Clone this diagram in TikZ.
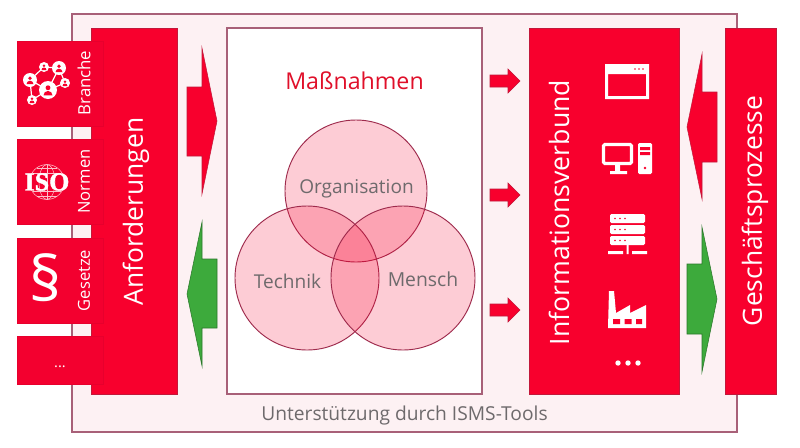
\documentclass[tikz,border=0pt]{standalone}
\usepackage{fontspec}
\setmainfont{Open Sans}
\newfontfamily\isofont[BoldFeatures={FakeBold=1.5}]{Liberation Serif}
\usetikzlibrary{calc}
\definecolor{rd}{HTML}{F8002D}
\definecolor{rdline}{HTML}{C2183A}
\definecolor{sidered}{HTML}{F3002F}
\definecolor{masstext}{HTML}{E0102A}
\definecolor{frameline}{HTML}{A86078}
\definecolor{paleback}{HTML}{FDF1F3}
\definecolor{grn}{HTML}{3DAA3C}
\definecolor{grytxt}{HTML}{6E6A6C}
\definecolor{vennline}{HTML}{9E2A4C}
\definecolor{vennfill}{HTML}{F8002D}
\tikzset{
 x=0.75pt,y=-0.75pt,
 redbox/.style={fill=rd,draw=rdline,line width=0.5pt,inner sep=0,outer sep=0},
 sidebox/.style={fill=sidered,draw=sidered!95!black,line width=0.3pt},
 blockred/.style={fill=rd,draw=rdline,line width=0.4pt},
 blockgreen/.style={fill=grn,draw=grn!70!black,line width=0.4pt},
 venn/.style={fill=vennfill,fill opacity=0.2,draw=vennline,line width=0.7pt},
 whitetext/.style={text=white,rotate=90,inner sep=0},
 iconline/.style={draw=white,line width=0.9pt},
 greytext/.style={text=grytxt,inner sep=0},
}
\begin{document}
\begin{tikzpicture}
\useasboundingbox (0,0) rectangle (800,447);
% frame
\path[fill=paleback,draw=frameline,line width=0.8pt] (72,14) rectangle (737,432);
\node[greytext,font=\fontsize{14.4}{15}\selectfont] (tools) at (404.5,416) {Unterstützung durch ISMS-Tools};
% left column
\path[redbox] (91,28) rectangle (177,394);
\node[whitetext,font=\fontsize{19.8}{21}\selectfont] (anf) at (136,211.5) {Anforderungen};
\path[sidebox] (17,41) rectangle (103,126);
\path[sidebox] (17,139) rectangle (103,224);
\path[sidebox] (17,238) rectangle (103,323);
\path[sidebox] (17,336) rectangle (103,384);
\node[whitetext,font=\fontsize{12.6}{13}\selectfont] (branche) at (84,83) {Branche};
\node[whitetext,font=\fontsize{12.4}{13}\selectfont] (normen) at (84,181.5) {Normen};
\node[whitetext,font=\fontsize{12.4}{13}\selectfont] (gesetze) at (84,280.5) {Gesetze};
\node[text=white,inner sep=0,font=\fontsize{11}{12}\selectfont] (more) at (60,367) {...};
% network icon
\draw[iconline] (30,80)--(44,67)--(59,68)--(65,83)--(48,90)--(32,100)--cycle (48,90)--(59,68) (30,80)--(48,90);
\foreach \cx/\cy/\r in {30/80/7,44/67/5,59/68/7,65/83/5,48/90/9,32/100/5}{
 \fill[white] (\cx,\cy) circle[radius=\r];
 \fill[rd] (\cx,\cy-0.25*\r) circle[radius=0.27*\r];
 \fill[rd] (\cx-0.5*\r,\cy+0.6*\r) arc[start angle=180,end angle=360,radius=0.5*\r] -- cycle;
}
% ISO icon
\draw[white!75!rd,line width=0.4pt] (47,182) circle[radius=17.5];
\draw[white!75!rd,line width=0.4pt] (47,182) ellipse[x radius=8,y radius=17.5];
\draw[white!75!rd,line width=0.4pt] (47,164.5)--(47,199.5) (37,168)--(57,168) (33,173)--(61,173) (33,191)--(61,191) (37,196)--(57,196);
\node[text=white,inner sep=0,font=\isofont\bfseries\fontsize{19.5}{21}\selectfont] (iso) at (47,182) {ISO};
% paragraph
\node[text=white,inner sep=0,font=\fontsize{47}{48}\selectfont] (par) at (46,278) {§};
% arrows
\path[blockred] (187,87)--(202,87)--(202,48)--(217,121)--(202,194)--(202,156)--(187,156)--cycle;
\path[blockgreen] (217,259)--(202,259)--(202,222)--(187,294)--(202,366)--(202,328)--(217,328)--cycle;
\path[blockred] (717,92)--(702,92)--(702,54)--(687,127)--(702,199)--(702,162)--(717,162)--cycle;
\path[blockgreen] (687,264)--(702,264)--(702,227)--(717,299)--(702,372)--(702,334)--(687,334)--cycle;
% centre
\path[fill=white,draw=frameline,line width=0.8pt] (227,28) rectangle (482,394);
\node[text=masstext,inner sep=0,font=\fontsize{17.4}{18}\selectfont] (mass) at (354.5,81) {Maßnahmen};
\path[venn] (356,191) circle[radius=71];
\path[venn] (307,278) circle[radius=72];
\path[venn] (403,278) circle[radius=72];
\node[greytext,font=\fontsize{14.3}{15}\selectfont] (org) at (356.5,189) {Organisation};
\node[greytext,font=\fontsize{14.3}{15}\selectfont] (tech) at (287.5,281) {Technik};
\node[greytext,font=\fontsize{14.5}{15}\selectfont] (mensch) at (423,279) {Mensch};
% small arrows
\foreach \ay in {81,195,310}{
 \path[blockred] (490,\ay-6)--(508,\ay-6)--(508,\ay-12)--(520,\ay)--(508,\ay+12)--(508,\ay+6)--(490,\ay+6)--cycle;
}
% right
\path[redbox] (529,28) rectangle (679,394);
\path[redbox] (725,28) rectangle (776,394);
\node[whitetext,font=\fontsize{20}{21}\selectfont] (inf) at (559,212.5) {Informationsverbund};
\node[whitetext,font=\fontsize{19.8}{21}\selectfont] (ges) at (755,211) {Geschäftsprozesse};
% window icon
\fill[white,even odd rule] (605,64) rectangle (649,99) (608,74) rectangle (646,96);
\fill[rd] (635,69) circle[radius=.8] (639,69) circle[radius=.8] (643,69) circle[radius=.8];
% computer icon
\draw[white,line width=2.4pt,rounded corners=1pt] (603.5,144.5) rectangle (631.5,163.5);
\fill[white] (615,165) rectangle (620,171) (610,171) rectangle (627,174);
\fill[white,rounded corners=1pt] (638,143) rectangle (652,174);
\fill[rd] (640,147) rectangle (650,150) (640,152) rectangle (650,155) (645,168) circle[radius=1.3];
% server icon
\foreach \sy in {214,225,236}{
 \fill[white,rounded corners=1pt] (610,\sy) rectangle (645,\sy+9);
 \fill[rd] (615,\sy+4.5) circle[radius=.8] (620,\sy+4.5) circle[radius=.8] (625,\sy+4.5) circle[radius=.8];
}
\fill[white] (626.5,245) rectangle (628.5,254) (608,251) rectangle (623,254) (632,251) rectangle (647,254);
% factory icon
\fill[white] (609,291)--(614,291)--(616,313)--(630,305)--(630,313)--(646,305)--(646,328)--(608,328)--cycle;
\fill[rd] (613,319) rectangle (620,324) (624.5,319) rectangle (631.5,324) (636,319) rectangle (642,324);
% dots
\fill[white] (618,363) circle[radius=2.7] (628,363) circle[radius=2.7] (638,363) circle[radius=2.7];
\end{tikzpicture}
\end{document}
